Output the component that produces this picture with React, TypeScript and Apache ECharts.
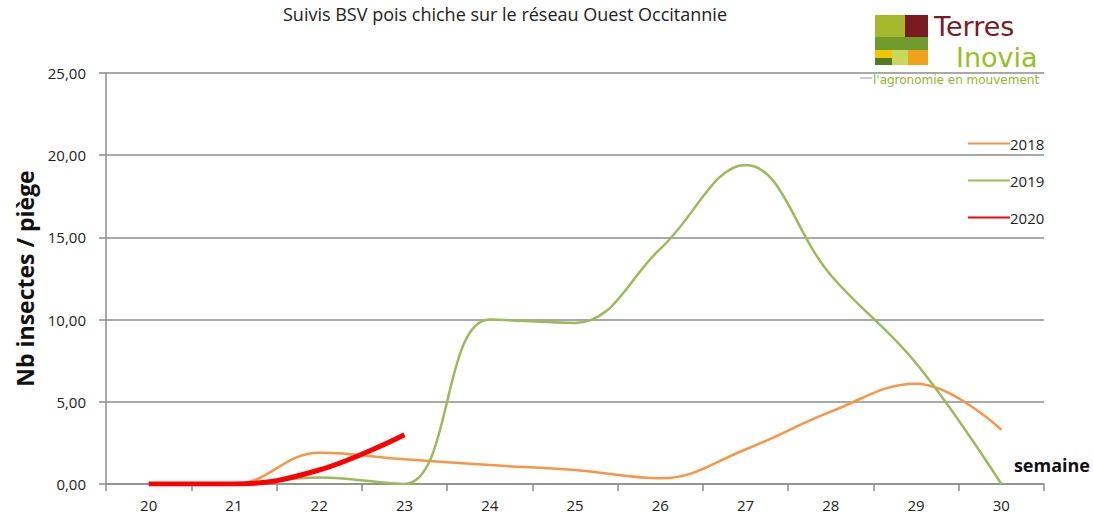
import React, { useEffect, useRef } from "react";
import * as echarts from "echarts";

const weeks = ["20", "21", "22", "23", "24", "25", "26", "27", "28", "29", "30"];
const s2018 = [0, 0, 1.9, 1.5, 1.15, 0.85, 0.35, 2.1, 4.4, 6.1, 3.3];
const s2019 = [0, 0, 0.4, 0, 10.0, 9.8, 14.3, 19.4, 12.7, 7.35, 0];
const s2020 = [0, 0, 0.85, 3.0, null, null, null, null, null, null, null];
const yTicks = [0, 5, 10, 15, 20, 25];

const FONT = "'Open Sans', 'Noto Sans', sans-serif";
const LOGO_FONT = "'DejaVu Sans', sans-serif";

export default function App() {
  const ref = useRef<HTMLDivElement>(null);
  useEffect(() => {
    const chart = echarts.init(ref.current!, undefined, { renderer: "svg" });
    chart.setOption({
      animation: false,
      backgroundColor: "#ffffff",
      title: {
        text: "Suivis BSV pois chiche sur le réseau Ouest Occitannie",
        left: 500,
        textAlign: "center",
        top: 0,
        textStyle: { fontFamily: FONT, fontSize: 18, fontWeight: "normal", color: "#222" },
      },
      grid: { left: 106, right: 48, top: 73, bottom: 34 },
      legend: {
        orient: "vertical",
        left: 962,
        top: 131,
        itemWidth: 42,
        itemHeight: 14,
        itemGap: 22,
        itemStyle: { opacity: 0 },
        textStyle: { fontFamily: FONT, fontSize: 15, color: "#222", padding: [0, 0, 0, -5] },
        data: ["2018", "2019", "2020"],
      },
      xAxis: {
        type: "category",
        data: weeks,
        boundaryGap: true,
        axisLine: { lineStyle: { color: "#8c8c8c", width: 1.5 } },
        axisTick: { show: true, length: 7, lineStyle: { color: "#8c8c8c", width: 1.5 } },
        axisLabel: { fontFamily: FONT, fontSize: 15, color: "#222", margin: 13 },
        name: "semaine",
        nameLocation: "end",
        nameGap: 0,
        nameTextStyle: {
          fontFamily: FONT,
          fontSize: 18,
          fontWeight: "bold",
          color: "#111",
          align: "right",
          verticalAlign: "bottom",
          padding: [0, -46, 10, 0],
        },
      },
      yAxis: {
        type: "value",
        min: 0,
        max: 25,
        interval: 5,
        axisLine: { show: true, lineStyle: { color: "#8c8c8c", width: 1.5 } },
        axisTick: { show: true, length: 7, lineStyle: { color: "#8c8c8c", width: 1.5 } },
        splitLine: { lineStyle: { color: "#8c8c8c", width: 1.5 } },
        axisLabel: {
          fontFamily: FONT,
          fontSize: 15,
          color: "#222",
          margin: 20,
          formatter: (v: number) => (yTicks.includes(v) ? v.toFixed(2).replace(".", ",") : ""),
        },
        name: "Nb insectes / piège",
        nameLocation: "middle",
        nameGap: 66,
        nameTextStyle: { fontFamily: FONT, fontSize: 23, fontWeight: "bold", color: "#111" },
      },
      series: [
        {
          name: "2018",
          type: "line",
          data: s2018,
          smooth: 0.4,
          symbol: "none",
          lineStyle: { color: "#f79646", width: 2.5 },
          itemStyle: { color: "#f79646" },
        },
        {
          name: "2019",
          type: "line",
          data: s2019,
          smooth: 0.4,
          symbol: "none",
          lineStyle: { color: "#9bbb59", width: 2.5 },
          itemStyle: { color: "#9bbb59" },
        },
        {
          name: "2020",
          type: "line",
          data: s2020,
          smooth: 0.4,
          symbol: "none",
          lineStyle: { color: "#ff0000", width: 5 },
          itemStyle: { color: "#ff0000" },
        },
      ],
      graphic: [
        { type: "rect", shape: { x: 875, y: 15, width: 30, height: 22 }, style: { fill: "#a3b92b" } },
        { type: "rect", shape: { x: 905, y: 15, width: 23, height: 22 }, style: { fill: "#7b1a22" } },
        { type: "rect", shape: { x: 875, y: 37, width: 53, height: 13 }, style: { fill: "#6f9a2e" } },
        { type: "rect", shape: { x: 875, y: 50, width: 17, height: 8 }, style: { fill: "#f2c500" } },
        { type: "rect", shape: { x: 875, y: 58, width: 17, height: 7 }, style: { fill: "#4f7a1e" } },
        { type: "rect", shape: { x: 892, y: 50, width: 16, height: 15 }, style: { fill: "#c9d85a" } },
        { type: "rect", shape: { x: 908, y: 50, width: 20, height: 15 }, style: { fill: "#f2a11a" } },
        {
          type: "text",
          x: 934,
          y: 26,
          style: {
            text: "Terres",
            fill: "#7b1a22",
            font: `27px ${LOGO_FONT}`,
            lineHeight: 28,
            verticalAlign: "middle",
          },
        },
        {
          type: "text",
          x: 956,
          y: 57,
          style: {
            text: "Inovia",
            fill: "#95c11f",
            font: `27px ${LOGO_FONT}`,
            lineHeight: 28,
            verticalAlign: "middle",
          },
        },
        { type: "line", shape: { x1: 860, y1: 78, x2: 872, y2: 78 }, style: { stroke: "#999", lineWidth: 1 } },
        {
          type: "text",
          x: 873,
          y: 80,
          style: {
            text: "l'agronomie en mouvement",
            fill: "#8cb82a",
            font: `12px ${LOGO_FONT}`,
            lineHeight: 13,
            verticalAlign: "middle",
          },
        },
      ],
    });
    return () => chart.dispose();
  }, []);
  return <div ref={ref} style={{ width: 1093, height: 518, position: "absolute", left: 0, top: 0 }} />;
}
